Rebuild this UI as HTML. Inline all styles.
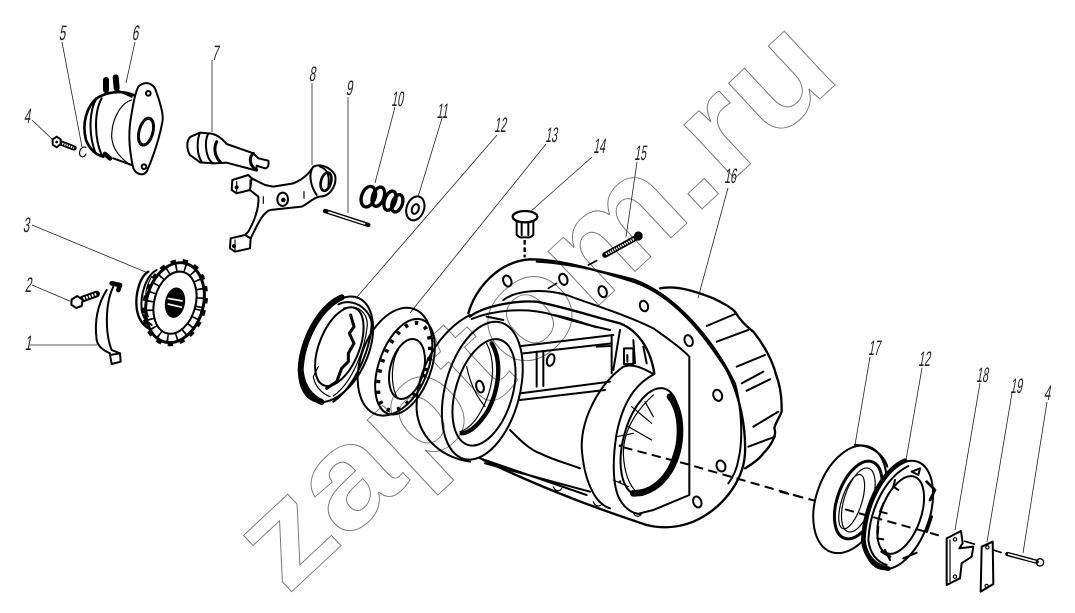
<!DOCTYPE html>
<html><head><meta charset="utf-8"><style>
html,body{margin:0;padding:0;background:#fff}
svg{display:block}
.l{stroke:#222;stroke-width:.8;fill:none}
.t{font-family:"Liberation Sans",sans-serif;font-size:21px;fill:#222;text-anchor:middle}
.p{fill:none;stroke:#000;stroke-width:6;stroke-linecap:round;stroke-linejoin:round}
.n{fill:none;stroke:#000;stroke-width:3.5;stroke-linecap:round;stroke-linejoin:round}
.h{fill:none;stroke:#000;stroke-width:10;stroke-linecap:round;stroke-linejoin:round}
.w{fill:#fff;stroke:#000;stroke-width:6;stroke-linejoin:round}
</style></head><body>
<svg width="1075" height="613" viewBox="0 0 1075 613" xmlns="http://www.w3.org/2000/svg">
<rect width="1075" height="613" fill="#fff"/>
<text transform="translate(287,596) rotate(-43)" font-family="Liberation Sans,sans-serif" font-weight="bold" font-size="140" fill="none" stroke="#777" stroke-width=".9" textLength="760" lengthAdjust="spacingAndGlyphs">zaptom.ru</text>

<!-- leaders -->
<g class="l">
<path d="M62 42L82 147M135 42L126 83M212 60V132M312 83V165M348 97V213M395 107L375 183M442 118L418 197M497 135L357 297M546 144L410 313M592 157L530 212M637 162L626 237M728 188L698 298M870 357L855 445M922 368L906 460M980 383L955 530M1012 393L987 542M1047 402L1023 553M32 120L53 140M32 225L148 273M32 285L72 302M30 345H97"/>
</g>
<!-- labels -->
<g class="t">
<text transform="translate(62,40) skewX(-10) scale(.55,1)">5</text>
<text transform="translate(135,40) skewX(-10) scale(.55,1)">6</text>
<text transform="translate(215,60) skewX(-10) scale(.55,1)">7</text>
<text transform="translate(312,81) skewX(-10) scale(.55,1)">8</text>
<text transform="translate(349,95) skewX(-10) scale(.55,1)">9</text>
<text transform="translate(397,106) skewX(-10) scale(.5,1)">10</text>
<text transform="translate(442,118) skewX(-10) scale(.5,1)">11</text>
<text transform="translate(500,132) skewX(-10) scale(.5,1)">12</text>
<text transform="translate(551,142) skewX(-10) scale(.5,1)">13</text>
<text transform="translate(599,153) skewX(-10) scale(.5,1)">14</text>
<text transform="translate(640,160) skewX(-10) scale(.5,1)">15</text>
<text transform="translate(730,183) skewX(-10) scale(.5,1)">16</text>
<text transform="translate(874,355) skewX(-10) scale(.5,1)">17</text>
<text transform="translate(924,366) skewX(-10) scale(.5,1)">12</text>
<text transform="translate(982,382) skewX(-10) scale(.5,1)">18</text>
<text transform="translate(1016,393) skewX(-10) scale(.5,1)">19</text>
<text transform="translate(1047,400) skewX(-10) scale(.55,1)">4</text>
<text transform="translate(27,123) skewX(-10) scale(.55,1)">4</text>
<text transform="translate(26,232) skewX(-10) scale(.55,1)">3</text>
<text transform="translate(28,292) skewX(-10) scale(.55,1)">2</text>
<text transform="translate(28,350) skewX(-10) scale(.55,1)">1</text>
</g>

<!-- left parts (zoom1 coordinates) -->
<g transform="scale(.33333)">
<!-- bolt 4 -->
<path class="h" style="stroke-width:16" d="M180 428L222 444"/><path d="M180 428L222 444" stroke="#fff" stroke-width="6" stroke-dasharray="4 3"/>
<polygon class="w" points="158,418 170,410 182,418 182,432 170,442 158,434"/>
<circle cx="170" cy="426" r="4" fill="#000"/>
<path class="n" d="M258 442C240 436 232 465 245 470C252 472 256 466 258 462"/>
<!-- part 6 -->
<path class="w" d="M415 260C430 245 452 245 465 265C478 300 490 340 488 360C480 410 460 470 440 515C430 528 410 525 400 505C385 440 385 390 395 340C400 310 405 280 415 260Z"/>
<ellipse class="p" cx="438" cy="395" rx="22" ry="43" transform="rotate(15 438 395)"/>
<ellipse class="n" cx="438" cy="395" rx="18" ry="38" transform="rotate(15 438 395)"/>
<circle class="p" cx="445" cy="280" r="7"/><circle class="p" cx="432" cy="500" r="7"/>
<path class="h" style="stroke-width:8" d="M400 285C365 270 320 275 290 295C260 320 245 370 258 420C270 450 290 465 310 470"/>
<path class="p" d="M290 295C268 330 265 400 285 455"/>
<path class="p" d="M305 295C280 340 285 420 305 465"/>
<path class="n" d="M395 300C360 310 335 360 335 410C337 440 350 465 390 495"/>
<path class="h" style="stroke-width:18" d="M318 240L318 270M347 232L350 265"/>
<path class="h" style="stroke-width:14" d="M315 462L330 475"/>
<path class="p" d="M350 270L395 290M340 475L395 495"/>
<!-- shaft 7 -->
<path class="p" d="M572 410L600 398L625 400C610 430 620 480 640 490L600 487L570 465C558 445 560 420 572 410Z"/>
<path class="p" d="M600 398C590 420 590 465 605 485M625 400C650 400 670 420 680 432L760 460L775 475L805 482C808 495 803 505 795 505L770 497L770 512L680 488L640 490"/>
<path class="h" style="stroke-width:9" d="M650 425C640 445 645 470 660 485M760 460C748 470 745 495 770 510"/>
<!-- fork 8 -->
<path class="p" d="M697 540L745 525L755 535L750 570L710 580L695 570Z"/>
<path class="p" d="M755 535L795 555L820 560L880 550C905 540 925 525 940 500C960 490 990 500 1005 525C1012 555 990 590 960 590C945 590 925 610 905 620L810 630C785 640 770 680 752 715"/>
<path class="p" d="M750 570L775 590C778 620 765 660 745 695L735 705"/>
<path class="p" d="M692 715L735 705L752 715L750 745L705 755L690 745Z"/>
<path class="n" d="M710 545V578M705 720V752M790 590V610M912 575V595M750 572V540"/>
<path class="p" d="M940 500C925 520 930 555 950 585M960 500C980 505 990 525 985 560"/>
<ellipse class="h" style="stroke-width:8" cx="978" cy="545" rx="15" ry="28" transform="rotate(15 978 545)"/>
<ellipse class="p" cx="848" cy="598" rx="16" ry="20"/>
<circle cx="850" cy="600" r="7" fill="#000"/>
<circle cx="710" cy="562" r="6" fill="#000"/><circle cx="702" cy="738" r="6" fill="#000"/>
<!-- pin 9 -->
<path class="h" style="stroke-width:13" d="M975 633L1105 675"/><path d="M985 636L1095 672" stroke="#fff" stroke-width="5"/>
<!-- spring 10 -->
<g class="h" style="stroke-width:10">
<ellipse cx="1105" cy="590" rx="20" ry="32" transform="rotate(20 1105 590)"/>
<ellipse cx="1135" cy="590" rx="17" ry="30" transform="rotate(20 1135 590)"/>
<ellipse cx="1170" cy="602" rx="16" ry="30" transform="rotate(20 1170 602)"/>
<ellipse cx="1192" cy="610" rx="15" ry="27" transform="rotate(20 1192 610)"/>
</g>
<!-- washer 11 -->
<ellipse class="p" cx="1246" cy="625" rx="26" ry="37" transform="rotate(20 1246 625)"/>
<ellipse class="p" cx="1246" cy="627" rx="10" ry="15" transform="rotate(20 1246 627)"/>
<!-- cup 3 -->
<path class="h" style="stroke-width:7" d="M445 815C420 830 405 880 410 925C415 960 430 975 445 985"/>
<path class="p" d="M470 810C440 825 420 880 425 930C430 955 440 965 455 975"/>
<path class="n" d="M455 830C435 860 430 910 445 950"/>
<ellipse class="h" style="stroke-width:9" cx="525" cy="908" rx="85" ry="122" transform="rotate(15 525 908)"/>
<ellipse fill="none" stroke="#000" stroke-width="12" stroke-dasharray="16 20" cx="525" cy="908" rx="90" ry="127" transform="rotate(15 525 908)"/>
<ellipse class="p" cx="525" cy="908" rx="62" ry="95" transform="rotate(15 525 908)"/>
<ellipse fill="none" stroke="#000" stroke-width="24" stroke-dasharray="5 22" cx="525" cy="908" rx="74" ry="108" transform="rotate(15 525 908)"/>
<ellipse cx="525" cy="908" rx="30" ry="46" transform="rotate(10 525 908)" fill="#000"/>
<path d="M503 895L548 903M503 912L546 922" stroke="#fff" stroke-width="5"/>
<!-- bolt 2 -->
<path class="h" style="stroke-width:20" d="M248 897L290 882"/><path d="M250 896L290 882" stroke="#fff" stroke-width="8" stroke-dasharray="5 4"/>
<polygon class="w" points="215,898 232,888 248,900 245,918 228,924 214,914"/>
<!-- clamp 1 -->
<path class="p" d="M320 870C295 910 282 960 290 1020C295 1045 320 1055 330 1060M340 860C315 910 315 1000 335 1050L360 1060"/>
<path class="h" style="stroke-width:14" d="M335 850L360 855L355 870"/>
<path class="p" d="M330 1065L360 1060L362 1085L335 1092Z"/>
</g>

<!-- ring 12 & 13 (zoom4 coordinates) -->
<g transform="translate(280,120) scale(.33333)">
<ellipse cx="168" cy="688" rx="96" ry="168" transform="rotate(24 168 688)" class="p"/>
<path class="h" style="stroke-width:18;stroke-dasharray:40 3" d="M185 532C120 560 65 660 62 750C65 790 85 830 125 846"/>
<path class="p" d="M175 553C220 530 275 570 275 615C270 690 225 800 160 845"/>
<path class="n" d="M190 565C235 550 262 580 262 615C255 690 215 790 160 828"/>
<ellipse class="p" cx="178" cy="680" rx="60" ry="125" transform="rotate(22 178 680)"/>
<path class="h" style="stroke-width:9" d="M212 585L222 620L208 640L222 670L205 700L205 725L185 745L170 785L140 805"/>
<path class="n" d="M115 740L100 770C105 800 125 820 150 830"/>
<!-- bearing 13 -->
<ellipse class="p" cx="345" cy="725" rx="102" ry="168" transform="rotate(20 345 725)"/>
<ellipse class="p" cx="375" cy="740" rx="78" ry="150" transform="rotate(20 375 740)"/>
<ellipse fill="none" stroke="#000" stroke-width="12" stroke-dasharray="10 22" cx="372" cy="740" rx="66" ry="138" transform="rotate(20 372 740)"/>
<ellipse class="p" cx="381" cy="747" rx="50" ry="92" transform="rotate(15 381 747)"/>
<path class="n" d="M355 690C335 720 330 790 350 830"/>
<!-- plug 14 -->
<path class="p" d="M710 305V345L720 352H750L760 345V305"/>
<ellipse class="w" style="fill:#fff;stroke-width:7" cx="735" cy="290" rx="37" ry="17"/>
<path class="p" d="M725 310V345M745 310V345"/>
<path class="h" style="stroke-width:7;stroke-dasharray:14 8;stroke-linecap:butt" d="M734 360V412"/>
</g>

<!-- housing (zoom2 coordinates) -->
<g transform="translate(420,220) scale(.33333)">
<path class="h" style="stroke-width:7" d="M145 280C165 210 230 125 330 118C420 118 530 150 640 185C760 225 850 340 920 450C960 530 978 620 975 700C970 790 900 870 820 905C770 925 720 925 680 915C560 875 400 820 190 720"/>
<path class="p" d="M350 125C450 130 570 160 640 178C770 225 880 360 945 490C965 560 970 660 955 720C950 750 940 770 925 790"/>
<path class="p" d="M250 240C290 210 370 205 440 225C520 255 620 285 700 325C750 360 790 390 808 410V825L700 870L660 880"/>
<path class="h" style="stroke-width:7" d="M150 290C180 265 270 240 350 245C430 260 520 290 600 310C650 330 690 380 703 460"/>
<path class="p" d="M155 297C220 270 320 260 400 285C450 300 500 315 570 330"/>
<path class="p" d="M200 290L250 300M400 285C440 290 490 310 530 322"/>
<!-- left outer -->
<path class="p" d="M150 285C60 330 -15 450 -10 570C-5 640 50 710 150 725"/>
<!-- left tube -->
<ellipse class="p" cx="187" cy="512" rx="112" ry="212" transform="rotate(15 187 512)"/>
<ellipse class="p" cx="192" cy="517" rx="85" ry="165" transform="rotate(17 192 517)"/>
<path class="h" style="stroke-width:13" d="M215 370C245 420 240 500 205 570C180 610 150 640 125 640"/>
<path class="n" d="M200 370C225 420 225 490 190 560C170 600 150 625 120 635"/>
<path class="n" d="M140 440C150 490 170 530 195 560"/>
<ellipse class="p" cx="180" cy="500" rx="11" ry="18" transform="rotate(-15 180 500)"/>
<!-- right tube -->
<path class="p" d="M700 462C670 445 640 430 610 440C540 490 485 590 485 680C490 770 520 850 570 865"/>
<path class="p" d="M703 462C650 490 610 540 590 640C580 700 575 780 595 830C610 860 630 880 660 882"/>
<ellipse class="p" cx="690" cy="665" rx="80" ry="165" transform="rotate(15 690 665)"/>
<path class="h" style="stroke-width:20" d="M750 530C790 580 790 680 750 750C720 800 680 820 640 820"/>
<path class="n" d="M700 525C650 570 610 630 610 700C612 760 630 800 650 815"/>
<path class="n" d="M635 560L695 610M625 620L695 660M675 545L700 590"/>
<path class="n" d="M590 650L640 640M580 780L625 800"/>
<circle cx="600" cy="677" r="4" fill="#000"/><circle cx="600" cy="785" r="4" fill="#000"/>
<!-- centre -->
<path class="p" d="M305 378L580 345M310 400L575 370M300 520L570 485M300 540L555 510M270 630C300 660 330 690 360 700C400 720 440 730 480 745M180 715L500 825M195 730L510 815"/>
<path class="p" d="M350 395V500M370 393V498M575 345V460M600 330L580 450M612 385H640V432H612ZM640 360L645 430M670 380L680 430"/>
<ellipse class="p" cx="392" cy="420" rx="11" ry="18" transform="rotate(15 392 420)"/>
<path class="h" style="stroke-width:6" d="M530 380L570 378M622 405V425"/>
<!-- holes -->
<g class="p" style="stroke-width:6">
<ellipse cx="262" cy="183" rx="12" ry="17" transform="rotate(-20 262 183)"/>
<ellipse cx="430" cy="178" rx="12" ry="17" transform="rotate(-20 430 178)"/>
<ellipse cx="548" cy="215" rx="12" ry="17" transform="rotate(-20 548 215)"/>
<ellipse cx="672" cy="258" rx="12" ry="16" transform="rotate(-20 672 258)"/>
<ellipse cx="806" cy="362" rx="12" ry="17" transform="rotate(-20 806 362)"/>
<ellipse cx="893" cy="526" rx="13" ry="17" transform="rotate(-20 893 526)"/>
<ellipse cx="903" cy="738" rx="13" ry="17" transform="rotate(-20 903 738)"/>
<ellipse cx="832" cy="846" rx="12" ry="17" transform="rotate(-20 832 846)"/>
</g>
<path class="n" d="M400 800C405 815 420 815 425 805M520 845C525 860 540 862 548 850M640 878C645 892 660 892 665 880"/>
<!-- rear cover -->
<path class="h" style="stroke-width:7" d="M720 205C770 195 830 215 880 235C910 250 930 260 945 275C960 300 975 315 1000 335C1040 385 1060 430 1070 470C1085 510 1085 550 1085 575C1080 590 1065 610 1063 625C1070 640 1060 670 1030 700C1020 715 1000 730 975 745"/>
<path class="h" style="stroke-width:6" d="M860 318L945 282M890 365L985 330M950 440L1035 405M965 490L1030 455M980 512L1050 478M1000 620L1075 575M985 680L1065 650"/>
<!-- bolt 15 -->
<path class="h" style="stroke-width:17" d="M555 105L645 55"/><path d="M558 103L642 57" stroke="#fff" stroke-width="7" stroke-dasharray="4 3"/>
<ellipse cx="655" cy="48" rx="13" ry="14" fill="#000"/>
<path class="h" style="stroke-width:5" d="M505 135L530 122M385 205L410 190"/>
<path class="h" style="stroke-width:6;stroke-linecap:butt;stroke-dasharray:28 16" d="M610 682L800 732L1140 830"/>
</g>

<!-- right parts (zoom3 coordinates) -->
<g transform="translate(780,330) scale(.33333)">
<path class="h" style="stroke-width:6;stroke-linecap:butt;stroke-dasharray:28 16" d="M0 485L105 512"/>
<ellipse class="p" cx="210" cy="508" rx="100" ry="168" transform="rotate(20 210 508)"/>
<path class="p" d="M225 345C270 345 310 370 322 410"/>
<ellipse class="h" style="stroke-width:9" cx="235" cy="510" rx="62" ry="122" transform="rotate(20 235 510)"/>
<ellipse class="n" cx="235" cy="510" rx="42" ry="100" transform="rotate(18 235 510)"/>
<ellipse class="n" cx="215" cy="515" rx="30" ry="85" transform="rotate(18 215 515)"/>
<ellipse class="w" cx="355" cy="555" rx="92" ry="170" transform="rotate(20 355 555)"/>
<path class="h" style="stroke-width:14" d="M375 392C310 420 255 520 250 630C255 680 285 710 325 716"/>
<path class="p" d="M385 408C320 440 270 530 265 630C270 670 290 695 320 705"/>
<ellipse class="p" cx="362" cy="555" rx="60" ry="122" transform="rotate(20 362 555)"/>
<path class="p" d="M345 450L340 470L355 480M310 520L300 545L320 550M295 590L292 625L310 628M315 660L330 690M370 685L410 668M395 425L420 415L415 435Z"/>
<path class="h" style="stroke-width:8" d="M440 455L465 480L450 510M455 560L440 605M305 665L330 680"/>
<path class="h" style="stroke-width:6;stroke-linecap:butt;stroke-dasharray:28 16" d="M195 538L490 620"/>
<path class="p" d="M500 625L543 603L548 640L538 655L580 650L575 680L545 700L540 745L500 765Z"/>
<path class="n" d="M510 630L510 755"/>
<circle class="n" cx="525" cy="628" r="5"/><circle class="n" cx="525" cy="740" r="5"/>
<path class="h" style="stroke-width:5;stroke-linecap:butt" d="M552 633L585 643M640 660L665 668"/>
<path class="p" d="M605 650L638 635L640 762L602 785Z"/>
<circle class="n" cx="622" cy="652" r="5"/><circle class="n" cx="620" cy="768" r="5"/>
<path class="h" style="stroke-width:13" d="M682 672L770 695"/><path d="M684 672L768 695" stroke="#fff" stroke-width="5"/>
<circle class="p" style="stroke-width:4" cx="780" cy="697" r="11"/>
</g>
</svg>
</body></html>
